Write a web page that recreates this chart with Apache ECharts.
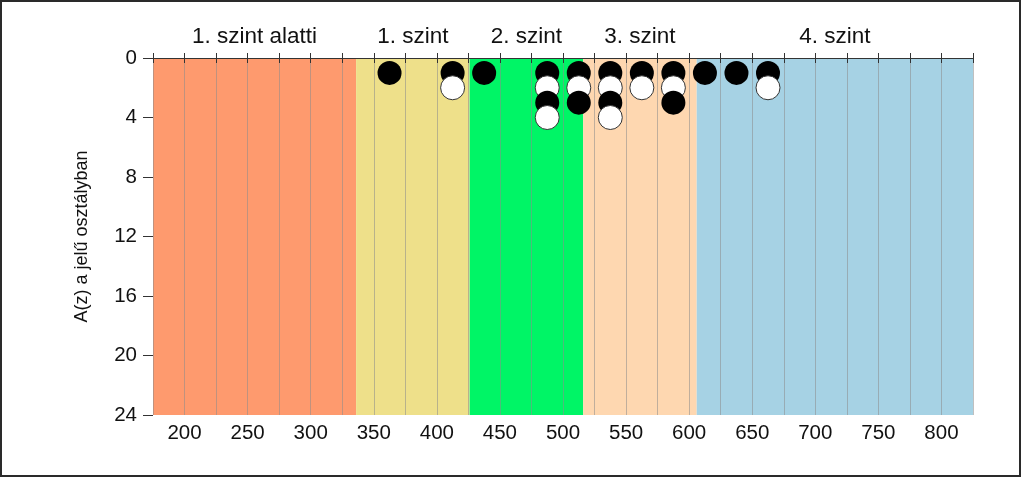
<!DOCTYPE html>
<html>
<head>
<meta charset="utf-8">
<script src="https://cdn.jsdelivr.net/npm/echarts@6/dist/echarts.min.js"></script>
<style>
html,body{margin:0;padding:0;background:#fff;}
#chart{position:absolute;left:0;top:0;width:1024px;height:478px;}
#frame{position:absolute;left:0;top:0;width:1017px;height:473px;border:2px solid #2a2a2a;pointer-events:none;}
</style>
</head>
<body>
<div id="chart"></div>
<div id="frame"></div>
<script>
// ---- data ----
const bandNames = ['1. szint alatti', '1. szint', '2. szint', '3. szint', '4. szint'];
const bandEdges = [175, 336, 426, 516, 606, 825];
const xTicks = [200, 250, 300, 350, 400, 450, 500, 550, 600, 650, 700, 750, 800];
const yTicks = [0, 4, 8, 12, 16, 20, 24];
const blackX = [362.5, 412.5, 437.5, 487.5, 512.5, 537.5, 562.5, 587.5, 612.5, 637.5, 662.5, 487.5, 512.5, 537.5, 587.5];
const blackY = [1, 1, 1, 1, 1, 1, 1, 1, 1, 1, 1, 3, 3, 3, 3];
const whiteX = [412.5, 487.5, 512.5, 537.5, 562.5, 587.5, 662.5, 487.5, 537.5];
const whiteY = [2, 2, 2, 2, 2, 2, 2, 4, 4];

// ---- styles ----
const bandColors = ['#FE9A6E', '#EEE08A', '#00F566', '#FED7B0', '#A6D2E4'];
const FONT = 'Liberation Sans, Arial, sans-serif';

const points = [];
blackX.forEach((x, i) => points.push({ value: [x, blackY[i]], itemStyle: { color: '#000', borderWidth: 0, opacity: 1 } }));
whiteX.forEach((x, i) => points.push({ value: [x, whiteY[i]], itemStyle: { color: '#fff', borderColor: '#333', borderWidth: 1, opacity: 1 } }));
points.sort((a, b) => a.value[1] - b.value[1]);

const bandData = bandNames.map((n, i) => [bandEdges[i], bandEdges[i + 1], i]);
const yMin = yTicks[0], yMax = yTicks[yTicks.length - 1];

const chart = echarts.init(document.getElementById('chart'), null, { renderer: 'canvas' });
chart.setOption({
  animation: false,
  backgroundColor: '#fff',
  textStyle: { fontFamily: FONT },
  grid: { left: 153, right: 51, top: 58, bottom: 63 },
  xAxis: [
    {
      type: 'value', position: 'bottom', min: bandEdges[0], max: bandEdges[bandEdges.length - 1], interval: 25,
      axisLine: { show: false },
      axisTick: { show: true, length: 5, lineStyle: { color: '#333' } },
      axisLabel: {
        color: '#111', fontSize: 20.5, fontFamily: FONT, margin: 8,
        formatter: v => (xTicks.indexOf(v) >= 0 ? String(v) : '')
      },
      splitLine: { show: true, lineStyle: { color: 'rgba(140,140,140,0.55)', width: 1 } }
    },
    {
      type: 'value', position: 'top', min: bandEdges[0], max: bandEdges[bandEdges.length - 1], interval: 25,
      axisLine: { show: true, onZero: false, lineStyle: { color: '#333', width: 1 } },
      axisTick: { show: true, length: 5, lineStyle: { color: '#333' } },
      axisLabel: { show: false },
      splitLine: { show: false }
    }
  ],
  yAxis: {
    type: 'value', inverse: true, min: yMin, max: yMax, interval: 4,
    name: 'A(z) a jelű osztályban', nameLocation: 'middle', nameGap: 62,
    nameTextStyle: { fontSize: 18, color: '#111', fontFamily: FONT },
    axisLine: { show: false },
    axisTick: { show: true, length: 10, lineStyle: { color: '#333' } },
    axisLabel: { color: '#111', fontSize: 20.5, fontFamily: FONT, margin: 16 },
    splitLine: { show: false }
  },
  series: [
    {
      type: 'custom', z: -1, silent: true, clip: false,
      data: bandData,
      renderItem: function (params, api) {
        const p0 = api.coord([api.value(0), yMin]);
        const p1 = api.coord([api.value(1), yMax]);
        const idx = api.value(2);
        const top = Math.min(p0[1], p1[1]);
        return {
          type: 'group',
          children: [
            {
              type: 'rect',
              shape: { x: p0[0], y: top, width: p1[0] - p0[0], height: Math.abs(p1[1] - p0[1]) },
              style: { fill: bandColors[idx] }
            },
            {
              type: 'text',
              style: {
                text: bandNames[idx], x: (p0[0] + p1[0]) / 2, y: top - 10,
                align: 'center', verticalAlign: 'bottom',
                font: '22.5px ' + FONT, fill: '#111'
              }
            }
          ]
        };
      }
    },
    {
      type: 'scatter', symbol: 'circle', symbolSize: 24, data: points, z: 5
    }
  ]
});
</script>
</body>
</html>
